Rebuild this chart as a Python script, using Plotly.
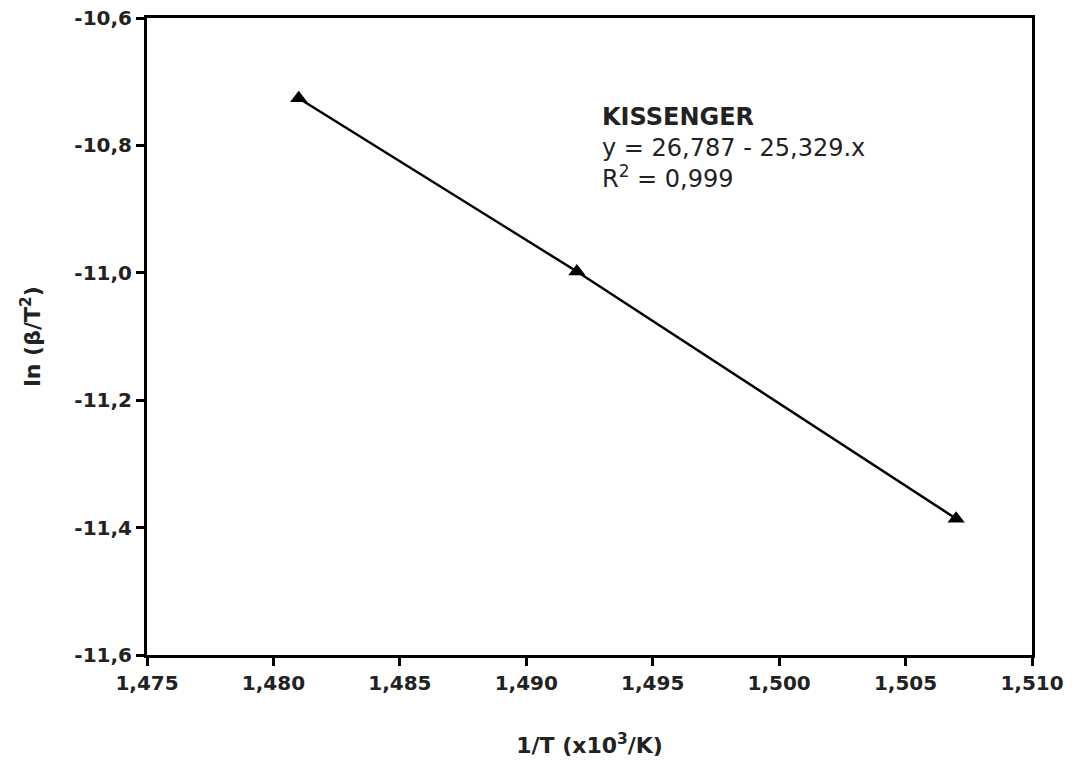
import plotly.graph_objects as go

inv_T = [1.481, 1.492, 1.507]
ln_beta_T2 = [-10.726, -10.998, -11.386]
x_ticks = [1.475, 1.480, 1.485, 1.490, 1.495, 1.500, 1.505, 1.510]
y_ticks = [-11.6, -11.4, -11.2, -11.0, -10.8, -10.6]

x_labels = [f"{v:.3f}".replace(".", ",") for v in x_ticks]
y_labels = [f"{v:.1f}".replace(".", ",") for v in y_ticks]

FONT = "DejaVu Sans, Liberation Sans, Arial"
TXT = "#222"

fig = go.Figure()
fig.add_trace(go.Scatter(
    x=inv_T, y=ln_beta_T2, mode="lines+markers",
    line=dict(color="black", width=2.5),
    marker=dict(symbol="triangle-up", size=15, color="black"),
    showlegend=False,
))

def axis_common():
    return dict(
        showline=True, linecolor="black", linewidth=3, mirror=True,
        ticks="outside", ticklen=8, tickwidth=3, tickcolor="black",
        showgrid=False, zeroline=False, automargin=False,
        ticklabeloverflow="allow",
        tickfont=dict(family=FONT, size=20, color=TXT, weight="bold"),
    )

fig.update_xaxes(range=[1.475, 1.510], tickvals=x_ticks, ticktext=x_labels,
                 title=dict(text="<b>1/T (x10<sup>3</sup>/K)</b>", standoff=44,
                            font=dict(family=FONT, size=22, color=TXT)),
                 **axis_common())
fig.update_yaxes(range=[-11.6, -10.6], tickvals=y_ticks, ticktext=y_labels,
                 title=dict(text="<b>ln (β/T<sup>2</sup>)</b>", standoff=28,
                            font=dict(family=FONT, size=22, color=TXT)),
                 **axis_common())

fig.add_annotation(
    x=0.512, y=0.87, xref="paper", yref="paper", xanchor="left", yanchor="top",
    align="left", showarrow=False,
    text="<b>KISSENGER</b><br>y = 26,787 - 25,329.x<br>R<sup>2</sup> = 0,999",
    font=dict(family=FONT, size=24, color=TXT),
)

fig.update_layout(
    width=1074, height=771,
    margin=dict(l=147, r=42, t=18, b=116),
    plot_bgcolor="white", paper_bgcolor="white",
)
fig.write_html("out.html", config={"displayModeBar": False},
               post_script="document.body.style.margin='0';")
